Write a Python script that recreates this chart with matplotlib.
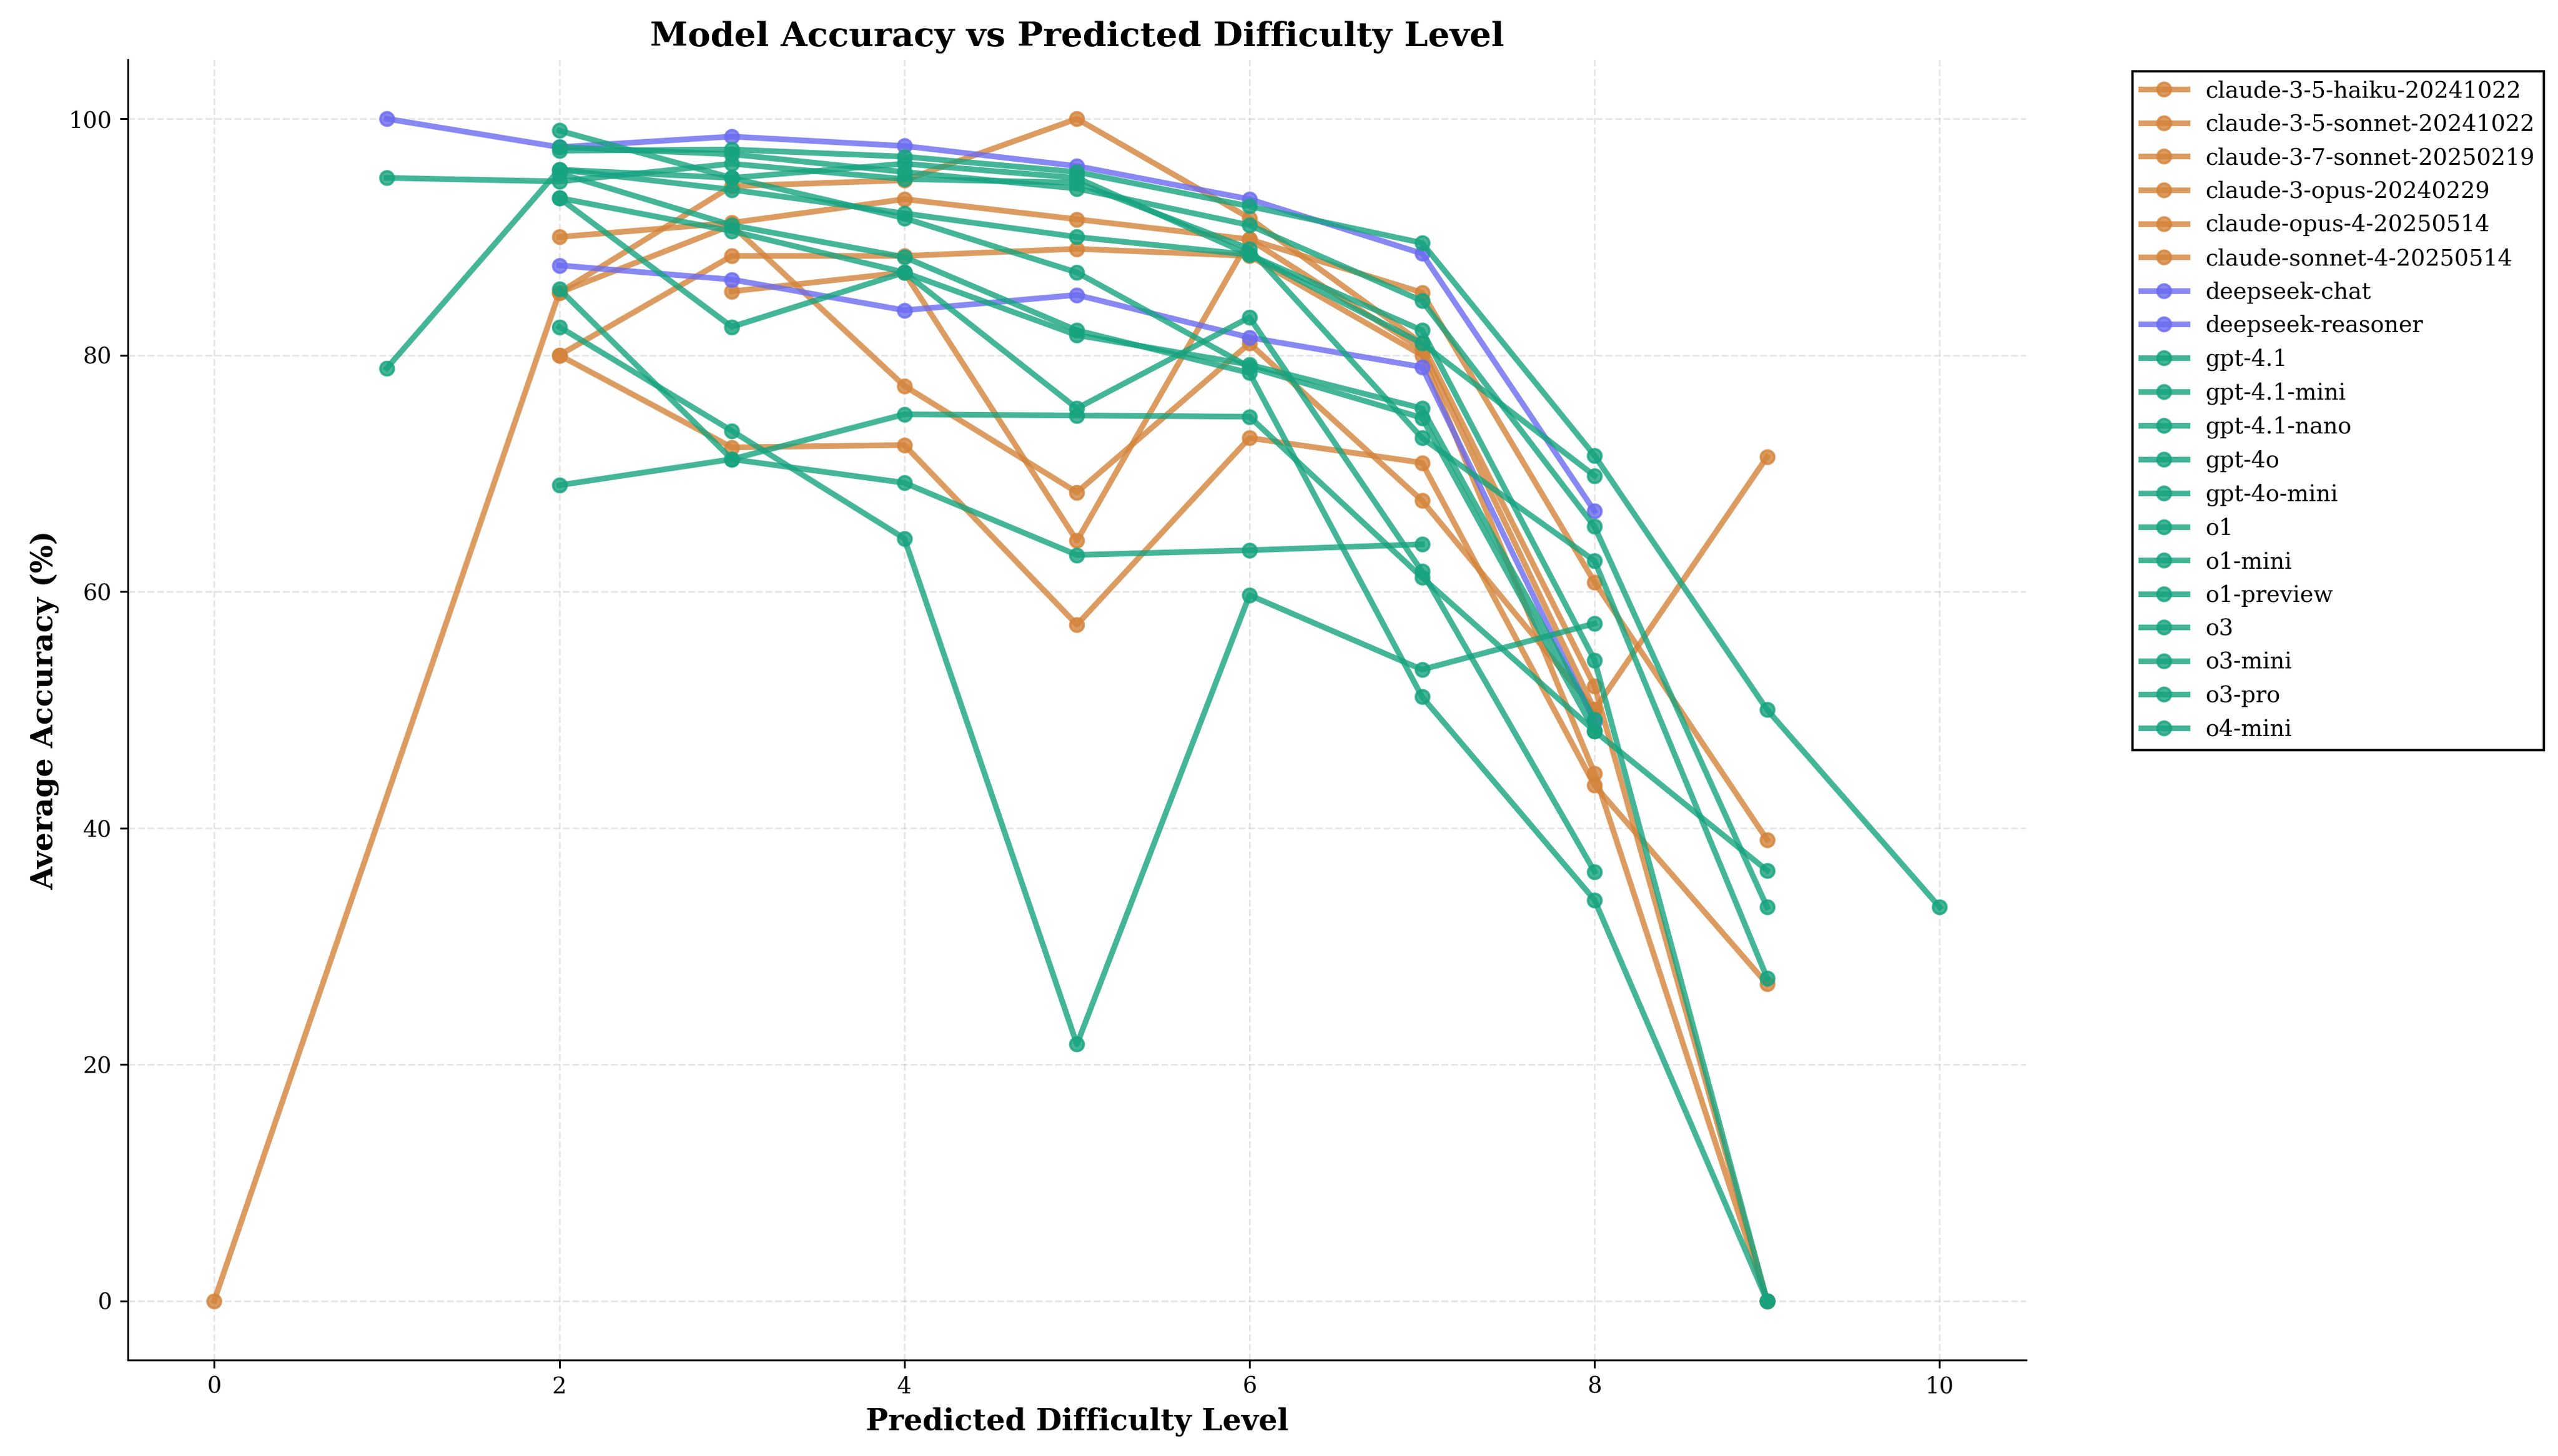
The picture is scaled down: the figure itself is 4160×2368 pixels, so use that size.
import numpy as np
import matplotlib.pyplot as plt

plt.rcParams['font.family'] = 'DejaVu Serif'

ORANGE = '#d4833a'
BLUE = '#6b6bf0'
GREEN = '#16a37f'

# difficulty levels and accuracy per model
haiku_x = [0, 2, 3, 4, 5, 6, 7, 8, 9]
haiku_y = [0, 85.3, 91.0, 77.4, 68.4, 81.0, 67.7, 50.0, 71.4]
sonnet35_x = [2, 3, 4, 5, 6, 7, 8, 9]
sonnet35_y = [90.0, 91.2, 93.2, 91.5, 89.8, 85.3, 60.8, 39.0]
sonnet37_x = [2, 3, 4, 5, 6, 7, 8, 9]
sonnet37_y = [80.0, 88.4, 88.4, 89.0, 88.4, 80.0, 44.6, 0]
opus3_x = [2, 3, 4, 5, 6, 7, 8, 9]
opus3_y = [80.0, 72.2, 72.4, 57.2, 73.0, 70.9, 43.6, 26.8]
opus4_x = [2, 3, 4, 5, 6, 7, 8, 9]
opus4_y = [85.3, 94.3, 94.8, 100.0, 91.6, 81.0, 52.0, 0]
sonnet4_x = [3, 4, 5, 6, 7, 8]
sonnet4_y = [85.4, 87.0, 64.3, 89.8, 80.5, 50.0]
dschat_x = [2, 3, 4, 5, 6, 7, 8]
dschat_y = [87.6, 86.4, 83.8, 85.1, 81.5, 79.0, 49.0]
dsreason_x = [1, 2, 3, 4, 5, 6, 7, 8]
dsreason_y = [100.0, 97.6, 98.5, 97.7, 96.0, 93.2, 88.6, 66.8]
gpt41_x = [2, 3, 4, 5, 6, 7, 8, 9]
gpt41_y = [95.7, 94.0, 92.0, 90.0, 88.5, 82.1, 54.2, 0]
gpt41mini_x = [2, 3, 4, 5, 6, 7, 8]
gpt41mini_y = [93.3, 90.5, 87.0, 81.7, 79.2, 75.5, 49.2]
gpt41nano_x = [2, 3, 4, 5, 6, 7, 8]
gpt41nano_y = [85.6, 71.2, 75.0, 74.9, 74.8, 61.2, 48.2]
gpt4o_x = [2, 3, 4, 5, 6, 7]
gpt4o_y = [69.0, 71.2, 69.2, 63.1, 63.5, 64.0]
gpt4omini_x = [2, 3, 4, 5, 6, 7, 8]
gpt4omini_y = [82.4, 73.6, 64.5, 21.7, 59.7, 53.4, 57.3]
o1_x = [2, 3, 4, 5, 6, 7, 8, 9]
o1_y = [97.6, 97.0, 95.5, 94.1, 91.0, 84.6, 65.5, 33.3]
o1mini_x = [2, 3, 4, 5, 6, 7, 8]
o1mini_y = [93.3, 82.4, 87.0, 75.5, 83.2, 61.7, 36.3]
o1prev_x = [2, 3, 4, 5, 6, 7, 8, 9]
o1prev_y = [95.4, 91.0, 88.3, 82.1, 78.5, 51.1, 33.9, 0]
o3_x = [1, 2, 3, 4, 5, 6, 7, 8, 9]
o3_y = [95.0, 94.7, 96.2, 94.9, 94.6, 89.0, 73.0, 62.6, 27.3]
o3mini_x = [1, 2, 3, 4, 5, 6, 7, 8, 9]
o3mini_y = [78.9, 95.7, 95.0, 91.6, 87.0, 79.0, 74.7, 48.2, 36.4]
o3pro_x = [2, 3, 4, 5, 6, 7, 8]
o3pro_y = [99.0, 95.0, 96.2, 95.0, 88.5, 81.0, 69.8]
o4mini_x = [2, 3, 4, 5, 6, 7, 8, 9, 10]
o4mini_y = [97.3, 97.4, 96.8, 95.5, 92.6, 89.5, 71.5, 50.0, 33.3]

models = [
    ('claude-3-5-haiku-20241022', haiku_x, haiku_y, ORANGE),
    ('claude-3-5-sonnet-20241022', sonnet35_x, sonnet35_y, ORANGE),
    ('claude-3-7-sonnet-20250219', sonnet37_x, sonnet37_y, ORANGE),
    ('claude-3-opus-20240229', opus3_x, opus3_y, ORANGE),
    ('claude-opus-4-20250514', opus4_x, opus4_y, ORANGE),
    ('claude-sonnet-4-20250514', sonnet4_x, sonnet4_y, ORANGE),
    ('deepseek-chat', dschat_x, dschat_y, BLUE),
    ('deepseek-reasoner', dsreason_x, dsreason_y, BLUE),
    ('gpt-4.1', gpt41_x, gpt41_y, GREEN),
    ('gpt-4.1-mini', gpt41mini_x, gpt41mini_y, GREEN),
    ('gpt-4.1-nano', gpt41nano_x, gpt41nano_y, GREEN),
    ('gpt-4o', gpt4o_x, gpt4o_y, GREEN),
    ('gpt-4o-mini', gpt4omini_x, gpt4omini_y, GREEN),
    ('o1', o1_x, o1_y, GREEN),
    ('o1-mini', o1mini_x, o1mini_y, GREEN),
    ('o1-preview', o1prev_x, o1prev_y, GREEN),
    ('o3', o3_x, o3_y, GREEN),
    ('o3-mini', o3mini_x, o3mini_y, GREEN),
    ('o3-pro', o3pro_x, o3pro_y, GREEN),
    ('o4-mini', o4mini_x, o4mini_y, GREEN),
]

fig = plt.figure(figsize=(15.6, 8.88), dpi=266.67)
ax = fig.add_axes([0.05, 0.066, 0.742, 0.893])

for name, x, y, c in models:
    ax.plot(x, y, '-o', color=c, lw=2.5, ms=6, alpha=0.8, label=name)

ax.set_title('Model Accuracy vs Predicted Difficulty Level', fontsize=15, fontweight='bold')
ax.set_xlabel('Predicted Difficulty Level', fontsize=13, fontweight='bold')
ax.set_ylabel('Average Accuracy (%)', fontsize=13, fontweight='bold')
ax.set_xlim(-0.5, 10.5)
ax.set_ylim(-5, 105)
ax.grid(True, linestyle='--', alpha=0.3)
ax.spines['top'].set_visible(False)
ax.spines['right'].set_visible(False)
ax.legend(loc='upper left', bbox_to_anchor=(1.05, 1.0), fontsize=10,
          fancybox=False, edgecolor='black', framealpha=1)

fig.savefig('out.png', dpi=266.67)
